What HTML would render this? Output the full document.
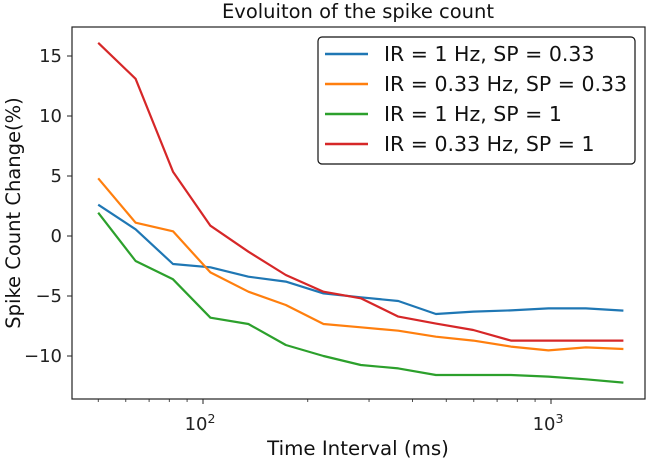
<!DOCTYPE html>
<html><head><meta charset="utf-8"><style>
body{margin:0;background:#fff;}
svg{display:block;font-family:"DejaVu Sans","Liberation Sans",sans-serif;}
</style></head><body>
<svg id="chart" width="646" height="458" viewBox="0 0 646 458" xmlns="http://www.w3.org/2000/svg">
<rect width="646" height="458" fill="#fff"/>
<g id="plot"></g>
</svg>
<script>
const xValues = [50, 64, 82, 105, 135, 173, 222, 284, 364, 467, 598, 767, 983, 1260, 1615];
const seriesBlue = [2.61, 0.56, -2.33, -2.61, -3.39, -3.8, -4.78, -5.11, -5.42, -6.5, -6.3, -6.2, -6.03, -6.03, -6.22];
const seriesOrange = [4.81, 1.11, 0.39, -3.03, -4.64, -5.75, -7.33, -7.61, -7.89, -8.39, -8.72, -9.22, -9.53, -9.28, -9.42];
const seriesGreen = [1.94, -2.08, -3.61, -6.81, -7.33, -9.08, -10.0, -10.75, -11.03, -11.58, -11.58, -11.58, -11.72, -11.94, -12.22];
const seriesRed = [16.1, 13.1, 5.36, 0.86, -1.31, -3.25, -4.64, -5.19, -6.72, -7.3, -7.83, -8.72, -8.72, -8.72, -8.72];
const seriesLabels = ["IR = 1 Hz, SP = 0.33", "IR = 0.33 Hz, SP = 0.33", "IR = 1 Hz, SP = 1", "IR = 0.33 Hz, SP = 1"];
const yTicks = [15, 10, 5, 0, -5, -10];
const xMajorTicks = [100, 1000];

const NS = "http://www.w3.org/2000/svg";
const plot = document.getElementById("plot");
const L = 72, R = 645, T = 27, B = 399;
function xs(v){ return 203 + (Math.log10(v) - 2) * 348; }
function ys(v){ return 236 - v * 12; }
function mk(tag, attrs, parent){
  const e = document.createElementNS(NS, tag);
  for (const k in attrs) e.setAttribute(k, attrs[k]);
  (parent || plot).appendChild(e);
  return e;
}
const frame = mk("rect", {x:L, y:T, width:R-L, height:B-T, fill:"none", stroke:"#222", "stroke-width":1.2});


yTicks.forEach(v => {
  const y = ys(v);
  const t = mk("line", {x1:L-5, x2:L, y1:y, y2:y, stroke:"#222", "stroke-width":1});
  
  
  const tx = mk("text", {x:L-10, y:y+6, "text-anchor":"end", "font-size":18, fill:"#222"});
  tx.textContent = v < 0 ? "\u2212" + Math.abs(v) : String(v);
  
  
});
[10, 100, 1000].forEach(d => {
  for (let m = 2; m <= 9; m++) {
    const v = d * m, x = xs(v);
    if (x < L || x > R) continue;
    const t = mk("line", {x1:x, x2:x, y1:B, y2:B+3, stroke:"#222", "stroke-width":0.8});
    
    
  }
});
xMajorTicks.forEach(v => {
  const x = xs(v);
  const t = mk("line", {x1:x, x2:x, y1:B, y2:B+5, stroke:"#222", "stroke-width":1});
  
  
  const tx = mk("text", {x:x-3, y:B+31, "text-anchor":"middle", "font-size":18, fill:"#222"});
  tx.innerHTML = '10<tspan dy="-7" font-size="12.5">' + Math.round(Math.log10(v)) + '</tspan>';
  
  
});
const colors = ["#1f77b4", "#ff7f0e", "#2ca02c", "#d62728"];
const allSeries = [seriesBlue, seriesOrange, seriesGreen, seriesRed];
const names = ["series-ir1-sp033", "series-ir033-sp033", "series-ir1-sp1", "series-ir033-sp1"];
allSeries.forEach((s, i) => {
  const d = s.map((v, j) => (j ? "L" : "M") + xs(xValues[j]).toFixed(1) + " " + ys(v).toFixed(1)).join(" ");
  const p = mk("path", {d:d, fill:"none", stroke:colors[i], "stroke-width":2.2, "stroke-linejoin":"round"});
  
  
});
const lg = mk("g", {});


mk("rect", {x:318, y:37, width:317, height:127, rx:4, fill:"#fff", stroke:"#111", "stroke-width":1.2}, lg);
seriesLabels.forEach((lab, i) => {
  const y = 54 + i * 30;
  const e = mk("g", {}, lg);
  
  
  mk("line", {x1:325, x2:368, y1:y, y2:y, stroke:colors[i], "stroke-width":2.4}, e);
  const t = mk("text", {x:384, y:y+7, "font-size":20.5, fill:"#111"}, e);
  t.textContent = lab;
});
const title = mk("text", {x:358, y:18, "text-anchor":"middle", "font-size":19.5, fill:"#111"});
title.textContent = "Evoluiton of the spike count";


const xl = mk("text", {x:358, y:455, "text-anchor":"middle", "font-size":19.8, fill:"#111"});
xl.textContent = "Time Interval (ms)";


const yl = mk("text", {x:0, y:0, "text-anchor":"middle", "font-size":19.5, fill:"#111", transform:"translate(20 213) rotate(-90)"});
yl.textContent = "Spike Count Change(%)";


</script>
</body></html>
